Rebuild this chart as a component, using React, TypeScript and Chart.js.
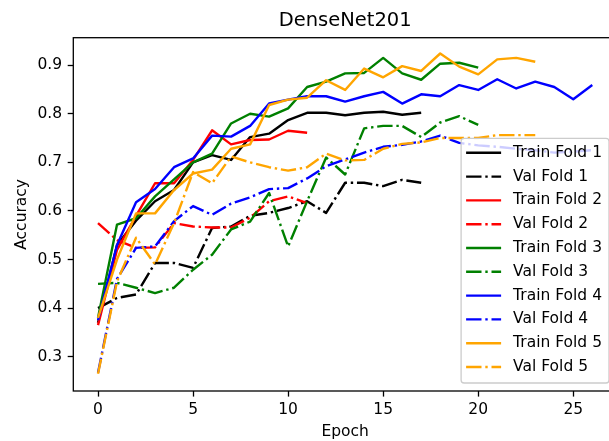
import React, { useEffect, useRef } from 'react';
import { Chart, registerables } from 'chart.js';

Chart.register(...registerables);

const FONT = '"DejaVu Sans", sans-serif';

const titleText = 'DenseNet201';
const xTitle = 'Epoch';
const yTitle = 'Accuracy';
const xTicks = [0, 5, 10, 15, 20, 25];
const yTicks = [0.3, 0.4, 0.5, 0.6, 0.7, 0.8, 0.9];

const trainFold1 = [0.37, 0.53, 0.58, 0.62, 0.643, 0.7, 0.715, 0.705, 0.752, 0.759, 0.787, 0.802, 0.802, 0.797, 0.802, 0.804, 0.798, 0.802];
const valFold1 = [0.4, 0.421, 0.428, 0.493, 0.493, 0.483, 0.565, 0.568, 0.59, 0.596, 0.606, 0.62, 0.596, 0.658, 0.658, 0.651, 0.664, 0.658];
const trainFold2 = [0.365, 0.52, 0.59, 0.657, 0.657, 0.705, 0.766, 0.737, 0.746, 0.747, 0.765, 0.761];
const valFold2 = [0.575, 0.54, 0.524, 0.525, 0.575, 0.568, 0.566, 0.566, 0.586, 0.62, 0.63, 0.616];
const trainFold3 = [0.38, 0.572, 0.585, 0.63, 0.665, 0.7, 0.718, 0.78, 0.8, 0.794, 0.811, 0.855, 0.866, 0.883, 0.884, 0.915, 0.883, 0.87, 0.903, 0.905, 0.895];
const valFold3 = [0.45, 0.452, 0.442, 0.431, 0.442, 0.479, 0.51, 0.562, 0.578, 0.637, 0.527, 0.62, 0.71, 0.675, 0.77, 0.775, 0.775, 0.752, 0.782, 0.795, 0.777];
const trainFold4 = [0.375, 0.53, 0.618, 0.645, 0.69, 0.708, 0.755, 0.753, 0.775, 0.821, 0.829, 0.836, 0.836, 0.825, 0.836, 0.845, 0.821, 0.84, 0.836, 0.859, 0.849, 0.871, 0.852, 0.866, 0.855, 0.83, 0.859];
const valFold4 = [0.267, 0.46, 0.524, 0.527, 0.579, 0.61, 0.592, 0.615, 0.628, 0.645, 0.647, 0.667, 0.692, 0.706, 0.72, 0.732, 0.736, 0.743, 0.755, 0.74, 0.735, 0.732, 0.728, 0.725, 0.72, 0.722, 0.725];
const trainFold5 = [0.38, 0.5, 0.595, 0.595, 0.643, 0.677, 0.685, 0.728, 0.737, 0.818, 0.829, 0.833, 0.869, 0.849, 0.893, 0.875, 0.898, 0.888, 0.924, 0.897, 0.881, 0.912, 0.915, 0.907];
const valFold5 = [0.265, 0.455, 0.545, 0.49, 0.575, 0.68, 0.657, 0.712, 0.7, 0.69, 0.683, 0.69, 0.718, 0.704, 0.705, 0.728, 0.738, 0.741, 0.75, 0.75, 0.75, 0.756, 0.756, 0.756];

const seriesLabels = ['Train Fold 1', 'Val Fold 1', 'Train Fold 2', 'Val Fold 2', 'Train Fold 3', 'Val Fold 3', 'Train Fold 4', 'Val Fold 4', 'Train Fold 5', 'Val Fold 5'];
const seriesValues = [trainFold1, valFold1, trainFold2, valFold2, trainFold3, valFold3, trainFold4, valFold4, trainFold5, valFold5];
const seriesColors = ['#000000', '#000000', '#ff0000', '#ff0000', '#008000', '#008000', '#0000ff', '#0000ff', '#ffa500', '#ffa500'];

const LW = 2.4;
const DASHDOT = [15.4, 3.8, 2.4, 3.8];

const framePlugin = {
  id: 'frame',
  afterDatasetsDraw(chart: any) {
    const { ctx, chartArea } = chart;
    ctx.save();
    ctx.strokeStyle = '#000';
    ctx.lineWidth = 1.3;
    ctx.strokeRect(chartArea.left, chartArea.top, chartArea.right - chartArea.left, chartArea.bottom - chartArea.top);
    ctx.restore();
  },
};

const legendPlugin = {
  id: 'mplLegend',
  afterDraw(chart: any) {
    const { ctx, chartArea } = chart;
    const fs = 15.5;
    const rowH = 23.8;
    const padV = 14.4;
    const n = seriesLabels.length;
    ctx.save();
    ctx.font = `${fs}px ${FONT}`;
    let maxW = 0;
    seriesLabels.forEach((l) => { maxW = Math.max(maxW, ctx.measureText(l).width); });
    const right = chartArea.right - 8;
    const bottom = chartArea.bottom - 8;
    const width = 5 + 35 + 12 + maxW + 7;
    const height = padV * 2 + rowH * (n - 1) + 1.6;
    const left = right - width;
    const top = bottom - height;
    ctx.beginPath();
    ctx.roundRect(left, top, width, height, 3);
    ctx.fillStyle = 'rgba(255,255,255,0.8)';
    ctx.fill();
    ctx.strokeStyle = '#cccccc';
    ctx.lineWidth = 1.3;
    ctx.stroke();
    seriesLabels.forEach((label, i) => {
      const y = top + padV + i * rowH;
      ctx.beginPath();
      ctx.strokeStyle = seriesColors[i];
      ctx.lineWidth = LW;
      ctx.lineCap = 'butt';
      ctx.setLineDash(i % 2 === 1 ? DASHDOT : []);
      ctx.moveTo(left + 5, y);
      ctx.lineTo(left + 40, y);
      ctx.stroke();
      ctx.setLineDash([]);
      ctx.fillStyle = '#000';
      ctx.textBaseline = 'middle';
      ctx.textAlign = 'left';
      ctx.fillText(label, left + 52, y);
    });
    ctx.restore();
  },
};

export default function App() {
  const ref = useRef<HTMLCanvasElement | null>(null);
  useEffect(() => {
    if (!ref.current) return;
    const datasets = seriesValues.map((vals, i) => ({
      label: seriesLabels[i],
      data: vals.map((v, e) => ({ x: e, y: v })),
      borderColor: seriesColors[i],
      backgroundColor: seriesColors[i],
      borderWidth: LW,
      borderDash: i % 2 === 1 ? DASHDOT : [],
      borderCapStyle: 'butt',
      borderJoinStyle: 'round',
      pointRadius: 0,
      pointHoverRadius: 0,
      tension: 0,
      fill: false,
      order: seriesLabels.length - i,
    }));
    const chart = new Chart(ref.current, {
      type: 'line',
      data: { datasets } as any,
      plugins: [framePlugin, legendPlugin],
      options: {
        animation: false,
        responsive: false,
        devicePixelRatio: 1,
        layout: { padding: { left: 0, right: 3, top: 0, bottom: 0 } },
        plugins: {
          legend: { display: false },
          tooltip: { enabled: false },
          title: {
            display: true,
            text: titleText,
            fullSize: false,
            color: '#000',
            font: { family: FONT, size: 19.5, weight: 'normal', lineHeight: 1.2 },
            padding: { top: 9.3, bottom: 5 },
          },
        },
        scales: {
          x: {
            type: 'linear',
            min: -1.3,
            max: 27.3,
            afterFit: (s: any) => { s.height = 50; },
            afterBuildTicks: (s: any) => { s.ticks = xTicks.map((v) => ({ value: v })); },
            border: { display: false },
            grid: { drawOnChartArea: false, drawTicks: true, tickLength: 5.6, tickColor: '#000', tickWidth: 1.3, color: '#000' },
            ticks: { color: '#000', font: { family: FONT, size: 15.5 }, padding: 4, maxRotation: 0, callback: (v: any) => String(v) },
            title: { display: true, text: xTitle, color: '#000', font: { family: FONT, size: 15.5, lineHeight: 1.2 }, padding: { top: 0, bottom: 0 } },
          },
          y: {
            type: 'linear',
            min: 0.2295,
            max: 0.9565,
            afterFit: (s: any) => { s.width = 73.3; },
            afterBuildTicks: (s: any) => { s.ticks = yTicks.map((v) => ({ value: v })); },
            border: { display: false },
            grid: { drawOnChartArea: false, drawTicks: true, tickLength: 5.6, tickColor: '#000', tickWidth: 1.3, color: '#000' },
            ticks: { color: '#000', font: { family: FONT, size: 15.5 }, padding: 5.6, callback: (v: any) => Number(v).toFixed(1) },
            title: { display: true, text: yTitle, color: '#000', font: { family: FONT, size: 15.5, lineHeight: 1.2 }, padding: { top: 12.7, bottom: 0 } },
          },
        },
      } as any,
    });
    return () => chart.destroy();
  }, []);
  return (
    <div style={{ position: 'fixed', left: 0, top: 0, width: 609, height: 441, overflow: 'hidden', background: '#fff' }}>
      <canvas ref={ref} width={620} height={441} style={{ width: 620, height: 441, display: 'block' }} />
    </div>
  );
}
